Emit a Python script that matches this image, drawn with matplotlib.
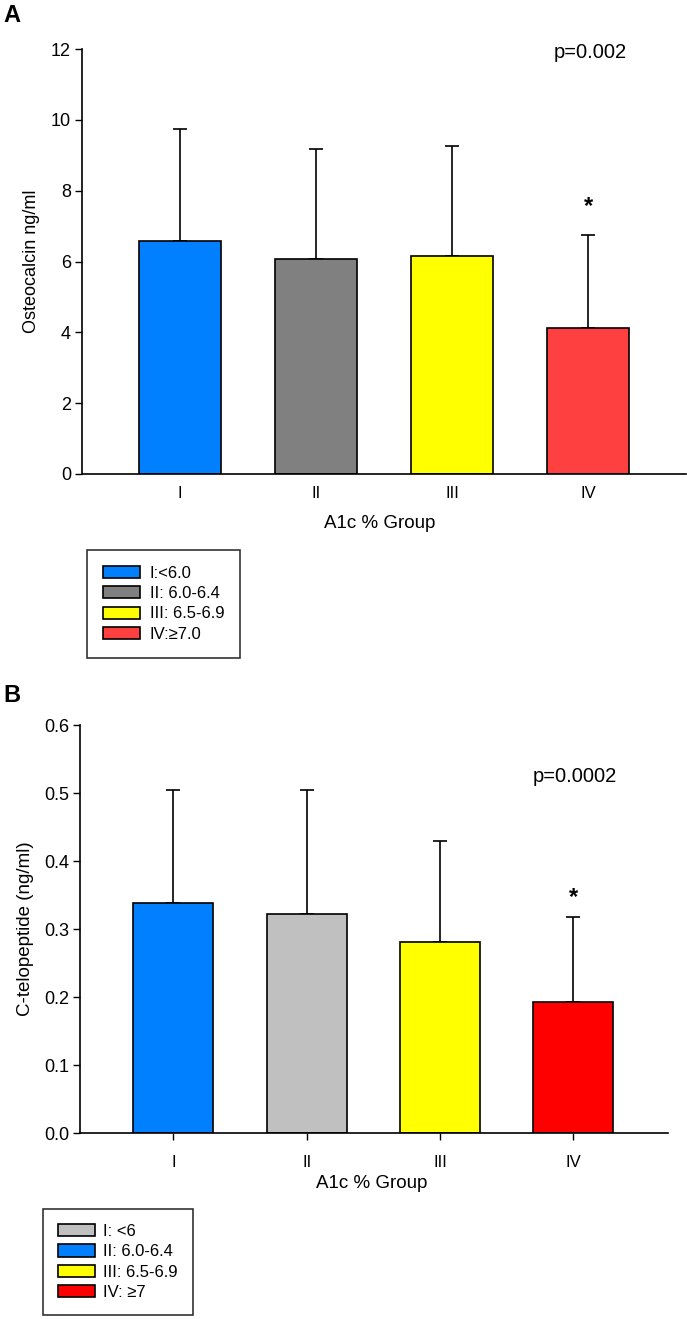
import matplotlib
matplotlib.use("Agg")
import matplotlib.pyplot as plt
from matplotlib.patches import Patch

plt.rcParams['font.family'] = ['Liberation Sans', 'DejaVu Sans']

groups = ["I", "II", "III", "IV"]

# Panel A: Osteocalcin
osteo_mean = [6.58, 6.06, 6.15, 4.13]
osteo_sd = [3.15, 3.12, 3.12, 2.61]
osteo_colors = ["#0080FF", "#808080", "#FFFF00", "#FF4040"]
osteo_legend = ["I:<6.0", "II: 6.0-6.4", "III: 6.5-6.9", "IV:≥7.0"]
osteo_p = "p=0.002"
osteo_star_y = 7.55

# Panel B: C-telopeptide
ctx_mean = [0.338, 0.322, 0.281, 0.192]
ctx_sd = [0.167, 0.183, 0.149, 0.125]
ctx_colors = ["#0080FF", "#C0C0C0", "#FFFF00", "#FF0000"]
ctx_legend_labels = ["I: <6", "II: 6.0-6.4", "III: 6.5-6.9", "IV: ≥7"]
ctx_legend_colors = ["#C0C0C0", "#0080FF", "#FFFF00", "#FF0000"]
ctx_p = "p=0.0002"
ctx_star_y = 0.346

W, H = 687, 1319
fig = plt.figure(figsize=(W / 100, H / 100), dpi=100)


def ax_px(l, r, t, b):
    return fig.add_axes([l / W, (H - b) / H, (r - l) / W, (b - t) / H])


def style(ax, xticks_visible):
    for s in ["top", "right"]:
        ax.spines[s].set_visible(False)
    for s in ["left", "bottom"]:
        ax.spines[s].set_linewidth(1.2)
    ax.tick_params(axis="y", direction="out", length=5, width=1, pad=3, labelsize=13)
    if xticks_visible:
        ax.tick_params(axis="x", direction="out", length=5, width=1, pad=11, labelsize=12)
    else:
        ax.tick_params(axis="x", length=0, pad=9, labelsize=12)


x = list(range(1, 5))

# ---- Panel A ----
axA = ax_px(82, 686, 49, 474)
axA.bar(x, osteo_mean, width=0.6, color=osteo_colors, edgecolor="black", linewidth=1.2, zorder=2)
axA.errorbar(x, osteo_mean, yerr=[[0] * 4, osteo_sd], fmt="none", ecolor="black",
             elinewidth=1.2, capsize=5, capthick=1.2, zorder=1)
axA.set_xlim(0.28, 4.72)
axA.set_ylim(0, 12)
axA.set_yticks([0, 2, 4, 6, 8, 10, 12])
axA.set_xticks(x)
axA.set_xticklabels(groups)
style(axA, False)
axA.set_ylabel("Osteocalcin ng/ml", fontsize=13, labelpad=8)
axA.text(4, osteo_star_y, "*", ha="center", va="center", fontsize=17, fontweight="bold")
fig.text(590 / W, 1 - 52 / H, osteo_p, ha="center", va="center", fontsize=14.5)
fig.text(380 / W, 1 - 523 / H, "A1c % Group", ha="center", va="center", fontsize=13.5)
fig.text(3 / W, 1 - 16 / H, "A", ha="left", va="center", fontsize=17, fontweight="bold")

handlesA = [Patch(facecolor=c, edgecolor="black", linewidth=1.2) for c in osteo_colors]
legA = fig.legend(handlesA, osteo_legend, loc="upper left",
                  bbox_to_anchor=(87 / W, 1 - 550 / H), fontsize=12, frameon=True,
                  fancybox=False, edgecolor="black", handlelength=2.2, handleheight=0.75,
                  labelspacing=0.32, borderpad=0.95, handletextpad=0.6, borderaxespad=0)
legA.get_frame().set_linewidth(1.2)

# ---- Panel B ----
axB = ax_px(80, 668, 725, 1133)
axB.bar(x, ctx_mean, width=0.6, color=ctx_colors, edgecolor="black", linewidth=1.2, zorder=2)
axB.errorbar(x, ctx_mean, yerr=[[0] * 4, ctx_sd], fmt="none", ecolor="black",
             elinewidth=1.2, capsize=5, capthick=1.2, zorder=1)
axB.set_xlim(0.30, 4.71)
axB.set_ylim(0, 0.6)
axB.set_yticks([0.0, 0.1, 0.2, 0.3, 0.4, 0.5, 0.6])
axB.set_yticklabels(["0.0", "0.1", "0.2", "0.3", "0.4", "0.5", "0.6"])
axB.set_xticks(x)
axB.set_xticklabels(groups)
style(axB, True)
axB.set_ylabel("C-telopeptide (ng/ml)", fontsize=13.5, labelpad=7)
axB.text(4, ctx_star_y, "*", ha="center", va="center", fontsize=17, fontweight="bold")
fig.text(575 / W, 1 - 776 / H, ctx_p, ha="center", va="center", fontsize=14.5)
fig.text(372 / W, 1 - 1184 / H, "A1c % Group", ha="center", va="center", fontsize=13.5)
fig.text(3 / W, 1 - 695 / H, "B", ha="left", va="center", fontsize=17, fontweight="bold")

handlesB = [Patch(facecolor=c, edgecolor="black", linewidth=1.2) for c in ctx_legend_colors]
legB = fig.legend(handlesB, ctx_legend_labels, loc="upper left",
                  bbox_to_anchor=(43 / W, 1 - 1209 / H), fontsize=12, frameon=True,
                  fancybox=False, edgecolor="black", handlelength=2.2, handleheight=0.75,
                  labelspacing=0.32, borderpad=0.9, handletextpad=0.5, borderaxespad=0)
legB.get_frame().set_linewidth(1.2)

fig.savefig("out.png", dpi=100, facecolor="white")
